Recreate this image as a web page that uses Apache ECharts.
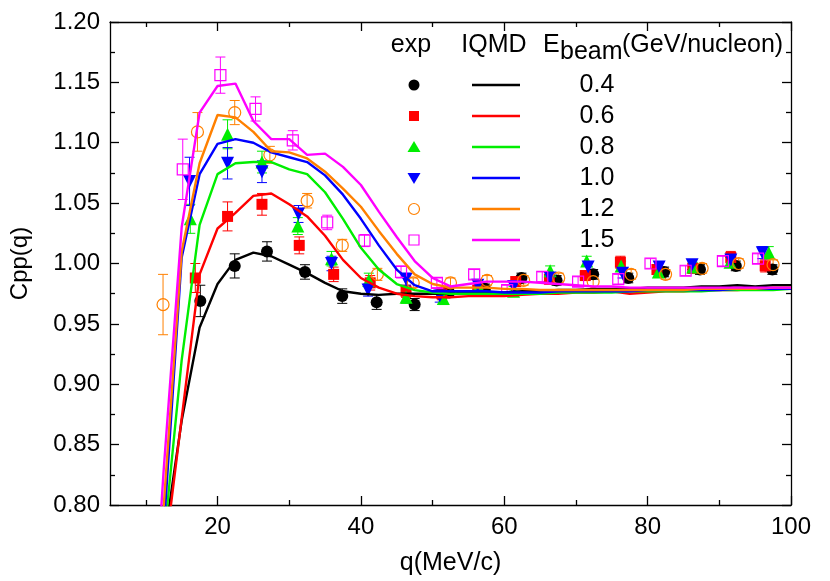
<!DOCTYPE html>
<html><head><meta charset="utf-8">
<script src="https://cdn.jsdelivr.net/npm/echarts@6/dist/echarts.min.js"></script>
<style>html,body{margin:0;padding:0;background:#fff}#c{width:830px;height:581px}</style>
</head><body><div id="c"></div>
<script>
// ---------- data ----------
const energies = ['0.4', '0.6', '0.8', '1.0', '1.2', '1.5'];
const xTickLabels = [20, 40, 60, 80, 100];
const xMinorTicks = [10, 30, 50, 70, 90];

// IQMD curves sampled on a q grid (MeV/c)
const qGrid = [10,12.5,15,17.5,20,22.5,25,27.5,30,32.5,35,37.5,40,42.5,45,47.5,50,52.5,55,57.5,60,62.5,65,67.5,70,72.5,75,77.5,80,82.5,85,87.5,90,92.5,95,97.5,100];
const iqmd04 = [0.65,0.768,0.870,0.947,0.983,1.003,1.009,1.006,0.999,0.992,0.984,0.977,0.975,0.974,0.975,0.975,0.975,0.975,0.976,0.976,0.976,0.977,0.977,0.978,0.978,0.979,0.979,0.979,0.980,0.980,0.980,0.981,0.981,0.982,0.981,0.982,0.982];
const iqmd06 = [0.63,0.752,0.872,0.991,1.029,1.042,1.056,1.058,1.049,1.039,1.023,1.003,0.988,0.980,0.975,0.973,0.972,0.972,0.973,0.973,0.973,0.974,0.975,0.975,0.976,0.976,0.977,0.975,0.976,0.977,0.977,0.978,0.978,0.978,0.979,0.979,0.979];
const iqmd08 = [0.64,0.77,0.92,1.032,1.074,1.083,1.084,1.084,1.078,1.074,1.059,1.037,1.013,0.995,0.983,0.978,0.976,0.975,0.975,0.975,0.975,0.975,0.975,0.976,0.976,0.976,0.976,0.977,0.977,0.977,0.977,0.977,0.978,0.978,0.978,0.978,0.979];
const iqmd10 = [0.60,0.78,1.005,1.074,1.099,1.103,1.100,1.092,1.088,1.084,1.073,1.057,1.037,1.015,0.995,0.982,0.977,0.977,0.977,0.977,0.976,0.976,0.976,0.977,0.977,0.977,0.977,0.977,0.978,0.978,0.978,0.978,0.978,0.979,0.979,0.979,0.979];
const iqmd12 = [0.58,0.80,1.01,1.083,1.123,1.121,1.109,1.093,1.092,1.087,1.076,1.062,1.047,1.027,1.008,0.991,0.983,0.980,0.980,0.980,0.979,0.979,0.978,0.978,0.978,0.978,0.978,0.978,0.978,0.978,0.978,0.979,0.979,0.979,0.979,0.980,0.980];
const iqmd15 = [0.60,0.83,1.03,1.125,1.147,1.149,1.118,1.103,1.103,1.090,1.091,1.080,1.065,1.043,1.022,1.002,0.988,0.981,0.983,0.985,0.985,0.985,0.984,0.983,0.982,0.981,0.981,0.980,0.980,0.980,0.980,0.980,0.980,0.980,0.980,0.980,0.980];

// experimental points: [q, Cpp, error]
const exp04 = [[17.6,0.969,0.013],[22.4,0.998,0.010],[26.9,1.010,0.008],[32.2,0.993,0.006],[37.4,0.973,0.006],[42.2,0.968,0.006],[47.5,0.966,0.005],[52.3,0.976,0.004],[57.3,0.979,0.004],[62.4,0.988,0.004],[67.3,0.986,0.004],[72.4,0.991,0.004],[77.3,0.988,0.004],[82.3,0.993,0.004],[87.3,0.995,0.004],[92.3,0.998,0.004],[97.4,0.995,0.004]];
const exp06 = [[16.9,0.988,0.012],[21.4,1.039,0.012],[26.2,1.049,0.009],[31.4,1.015,0.007],[36.2,0.991,0.006],[41.3,0.984,0.006],[46.3,0.977,0.005],[51.3,0.975,0.005],[56.3,0.978,0.004],[61.6,0.985,0.004],[66.3,0.987,0.004],[71.3,0.990,0.004],[76.2,1.001,0.005],[81.3,0.995,0.004],[86.3,0.996,0.004],[91.6,1.005,0.005],[96.4,0.998,0.005]];
const exp08 = [[16.2,1.037,0.012],[21.4,1.107,0.012],[26.2,1.084,0.009],[31.2,1.031,0.007],[35.9,1.004,0.006],[41.1,0.986,0.006],[46.3,0.972,0.005],[51.5,0.971,0.005],[56.4,0.981,0.004],[61.3,0.977,0.004],[66.4,0.994,0.004],[71.5,1.002,0.004],[76.3,0.998,0.004],[81.5,0.993,0.004],[86.3,0.997,0.004],[91.5,1.001,0.004],[96.9,1.009,0.005]];
const exp10 = [[16.1,1.068,0.020],[21.4,1.083,0.013],[26.2,1.076,0.009],[31.3,1.041,0.007],[35.9,1.000,0.006],[41.0,0.978,0.005],[46.3,0.987,0.005],[51.0,0.973,0.005],[56.3,0.982,0.004],[61.3,0.981,0.004],[66.4,0.988,0.004],[71.7,0.997,0.004],[76.5,0.992,0.004],[81.6,0.997,0.004],[86.2,0.999,0.004],[91.6,1.003,0.004],[96.0,1.009,0.005]];
const exp12 = [[12.4,0.966,0.025],[17.2,1.109,0.016],[22.4,1.125,0.010],[27.3,1.090,0.007],[32.5,1.052,0.006],[37.4,1.015,0.005],[42.3,0.991,0.005],[47.3,0.984,0.004],[52.5,0.984,0.004],[57.6,0.986,0.004],[62.7,0.986,0.004],[67.6,0.988,0.004],[72.4,0.985,0.004],[77.7,0.991,0.004],[82.5,0.991,0.004],[87.6,0.996,0.004],[92.7,1.000,0.004],[97.5,0.999,0.004]];
const exp15 = [[15.15,1.078,0.025],[20.4,1.156,0.015],[25.3,1.128,0.010],[30.5,1.102,0.008],[35.3,1.034,0.006],[40.5,1.019,0.005],[45.6,0.993,0.005],[50.6,0.984,0.004],[55.8,0.991,0.004],[60.4,0.978,0.004],[65.3,0.989,0.004],[70.3,0.985,0.004],[75.9,0.987,0.004],[80.4,1.000,0.004],[85.3,0.994,0.004],[90.5,1.002,0.004],[95.4,1.004,0.004]];

// ---------- styling ----------
const FONT = 'Liberation Sans, Arial, Helvetica, sans-serif';
const COLORS = ['#000000', '#ff0000', '#00ee00', '#0000ff', '#ff8000', '#ff00ff'];
const SYMBOLS = [
  {symbol: 'circle', rotate: 0, filled: true, size: 12},
  {symbol: 'rect', rotate: 0, filled: true, size: 11},
  {symbol: 'triangle', rotate: 0, filled: true, size: 13},
  {symbol: 'triangle', rotate: 180, filled: true, size: 13},
  {symbol: 'circle', rotate: 0, filled: false, size: 12},
  {symbol: 'rect', rotate: 0, filled: false, size: 11}
];
const iqmdSets = [iqmd04, iqmd06, iqmd08, iqmd10, iqmd12, iqmd15];
const expSets = [exp04, exp06, exp08, exp10, exp12, exp15];

const X_MIN = 5, X_MAX = 100, Y_MIN = 0.8, Y_MAX = 1.2;

function xAxisDef(position, ticks, len, showLabels, showLine) {
  return {
    type: 'value', min: X_MIN, max: X_MAX, position: position,
    axisLine: {show: showLine, lineStyle: {color: '#000', width: 1.3}},
    axisTick: {show: true, inside: true, length: len, customValues: ticks, lineStyle: {color: '#000', width: 1.3}},
    axisLabel: {show: showLabels, customValues: ticks, margin: 10, color: '#000', fontFamily: FONT, fontSize: 24},
    splitLine: {show: false}
  };
}
function yAxisDef(position, showLabels) {
  return {
    type: 'value', min: Y_MIN, max: Y_MAX, interval: 0.05, position: position,
    axisLine: {show: true, lineStyle: {color: '#000', width: 1.3}},
    axisTick: {show: true, inside: true, length: 9, lineStyle: {color: '#000', width: 1.3}},
    minorTick: {show: true, splitNumber: 2, length: 5, lineStyle: {color: '#000', width: 1.3}},
    axisLabel: {show: showLabels, margin: 10, color: '#000', fontFamily: FONT, fontSize: 24,
      formatter: v => v.toFixed(2)},
    splitLine: {show: false}, minorSplitLine: {show: false}
  };
}

const series = [];
// error bars + markers
expSets.forEach((set, i) => {
  const col = COLORS[i];
  series.push({
    type: 'custom', xAxisIndex: 0, yAxisIndex: 0, z: 2, clip: true,
    data: set, encode: {x: 0, y: 1},
    renderItem: function (params, api) {
      const q = api.value(0), v = api.value(1), e = api.value(2);
      const t = api.coord([q, v + e]), b = api.coord([q, v - e]);
      const w = 5;
      const st = {stroke: col, lineWidth: 1};
      return {type: 'group', children: [
        {type: 'line', shape: {x1: t[0], y1: t[1], x2: b[0], y2: b[1]}, style: st},
        {type: 'line', shape: {x1: t[0] - w, y1: t[1], x2: t[0] + w, y2: t[1]}, style: st},
        {type: 'line', shape: {x1: b[0] - w, y1: b[1], x2: b[0] + w, y2: b[1]}, style: st}
      ]};
    }
  });
  const s = SYMBOLS[i];
  series.push({
    type: 'scatter', xAxisIndex: 0, yAxisIndex: 0, z: 3,
    data: set.map(p => [p[0], p[1]]),
    symbol: s.symbol, symbolRotate: s.rotate, symbolSize: s.size,
    itemStyle: s.filled ? {color: col, borderWidth: 0, opacity: 1}
                        : {color: 'rgba(255,255,255,0)', borderColor: col, borderWidth: 1.2, opacity: 1},
    emphasis: {disabled: true}, silent: true
  });
});
// IQMD lines
iqmdSets.forEach((vals, i) => {
  series.push({
    type: 'line', xAxisIndex: 0, yAxisIndex: 0, z: 4, clip: true,
    data: qGrid.map((q, k) => [q, vals[k]]),
    showSymbol: false, symbol: 'none', smooth: false,
    lineStyle: {color: COLORS[i], width: 2.4},
    emphasis: {disabled: true}, silent: true
  });
});

// legend drawn as graphic
const LEG_ROWS = [85, 116, 147, 178, 209, 240];
const legend = [];
const txt = (x, y, s, align, size) => ({type: 'text', x: x, y: y, z: 10,
  style: {text: s, fill: '#000', font: (size || 25) + 'px ' + FONT, textAlign: align || 'center', textVerticalAlign: 'middle'}});
legend.push(txt(411, 45, 'exp'));
legend.push(txt(494, 45, 'IQMD'));
legend.push(txt(543, 45, 'E', 'left'));
legend.push(txt(560, 52, 'beam', 'left'));
legend.push(txt(622, 45, '(GeV/nucleon)', 'left'));
LEG_ROWS.forEach((y, i) => {
  const col = COLORS[i], mx = 414;
  let m;
  if (i === 0) m = {type: 'circle', shape: {cx: mx, cy: y, r: 5.5}, style: {fill: col}};
  else if (i === 1) m = {type: 'rect', shape: {x: mx - 5, y: y - 5, width: 10, height: 10}, style: {fill: col}};
  else if (i === 2) m = {type: 'polygon', shape: {points: [[mx, y - 6], [mx + 6.5, y + 5], [mx - 6.5, y + 5]]}, style: {fill: col}};
  else if (i === 3) m = {type: 'polygon', shape: {points: [[mx, y + 6], [mx + 6.5, y - 5], [mx - 6.5, y - 5]]}, style: {fill: col}};
  else if (i === 4) m = {type: 'circle', shape: {cx: mx, cy: y, r: 5.5}, style: {fill: 'none', stroke: col, lineWidth: 1.2}};
  else m = {type: 'rect', shape: {x: mx - 5, y: y - 5, width: 10, height: 10}, style: {fill: 'none', stroke: col, lineWidth: 1.2}};
  m.z = 10;
  legend.push(m);
  legend.push({type: 'line', z: 10, shape: {x1: 472, y1: y, x2: 520, y2: y}, style: {stroke: col, lineWidth: 2.4}});
  legend.push(txt(597, y, energies[i]));
});

const option = {
  backgroundColor: '#ffffff',
  animation: false,
  grid: {left: 105, right: 39, top: 22, bottom: 72, containLabel: false},
  xAxis: [
    Object.assign(xAxisDef('bottom', xTickLabels, 9, true, true), {
      name: 'q(MeV/c)', nameLocation: 'middle', nameGap: 46,
      nameTextStyle: {color: '#000', fontFamily: FONT, fontSize: 25}
    }),
    xAxisDef('bottom', xMinorTicks, 5, false, false),
    xAxisDef('top', xTickLabels, 9, false, true),
    xAxisDef('top', xMinorTicks, 5, false, false)
  ],
  yAxis: [
    Object.assign(yAxisDef('left', true), {
      name: 'Cpp(q)', nameLocation: 'middle', nameGap: 78, nameRotate: 90,
      nameTextStyle: {color: '#000', fontFamily: FONT, fontSize: 24}
    }),
    yAxisDef('right', false)
  ],
  series: series,
  graphic: legend
};

const chart = echarts.init(document.getElementById('c'), null, {renderer: 'canvas'});
chart.setOption(option);
</script>
</body></html>
